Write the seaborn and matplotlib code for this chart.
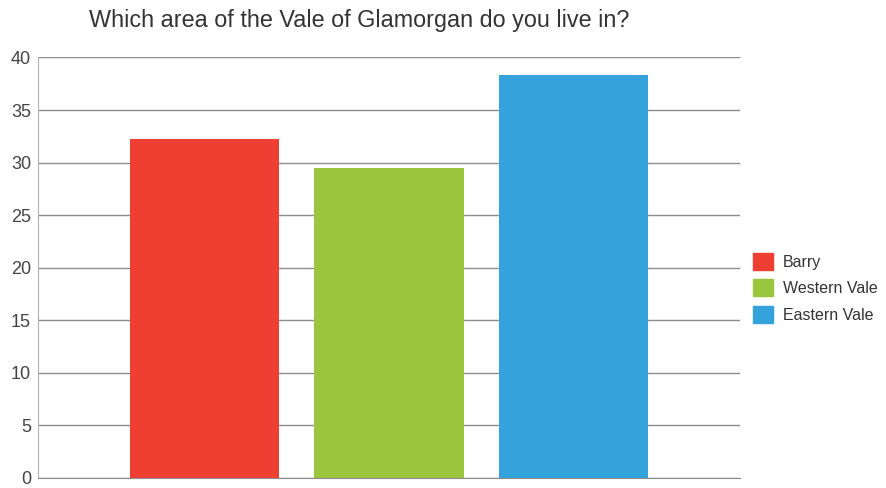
import seaborn as sns
import pandas as pd
import matplotlib.pyplot as plt

# Dados
areas = ['Barry', 'Western Vale', 'Eastern Vale']
percent = [32.2, 29.5, 38.3]
cores = ['#EF3E32', '#9AC63D', '#34A3DC']
yticks = [0, 5, 10, 15, 20, 25, 30, 35, 40]

df = pd.DataFrame({'area': areas, 'valor': percent})

sns.set_style('white')
plt.rcParams['font.family'] = ['Liberation Sans', 'DejaVu Sans']

fig = plt.figure(figsize=(8.87, 4.88), dpi=100)
ax = fig.add_axes([0.0428, 0.0205, 0.7914, 0.8617])

sns.barplot(data=df, x='area', y='valor', hue='area', palette=cores,
            dodge=False, width=0.808, saturation=1, legend=False,
            linewidth=0, ax=ax)

ax.set_xlim(-0.902, 2.902)
ax.set_ylim(0, 40)
ax.set_yticks(yticks)
ax.set_xticks([])
ax.set_xlabel('')
ax.set_ylabel('')
ax.yaxis.grid(True, color='#8c8c8c', linewidth=1)
ax.set_axisbelow(True)
ax.tick_params(axis='y', length=0, labelsize=13, labelcolor='#444444', pad=5)
for s in ['top', 'right']:
    ax.spines[s].set_visible(False)
ax.spines['left'].set_color('#b0b0b0')
ax.spines['bottom'].set_color('#8c8c8c')

fig.text(0.405, 0.958, 'Which area of the Vale of Glamorgan do you live in?',
         ha='center', va='center', fontsize=16.8, color='#333333')

handles = [plt.Rectangle((0, 0), 1, 1, color=c) for c in cores]
fig.legend(handles, areas, loc='center left', bbox_to_anchor=(0.833, 0.41),
           frameon=False, fontsize=11.5, labelcolor='#333333',
           handlelength=1.25, handleheight=1.25, handletextpad=0.6,
           labelspacing=0.6)

plt.savefig('out.png', dpi=100)
